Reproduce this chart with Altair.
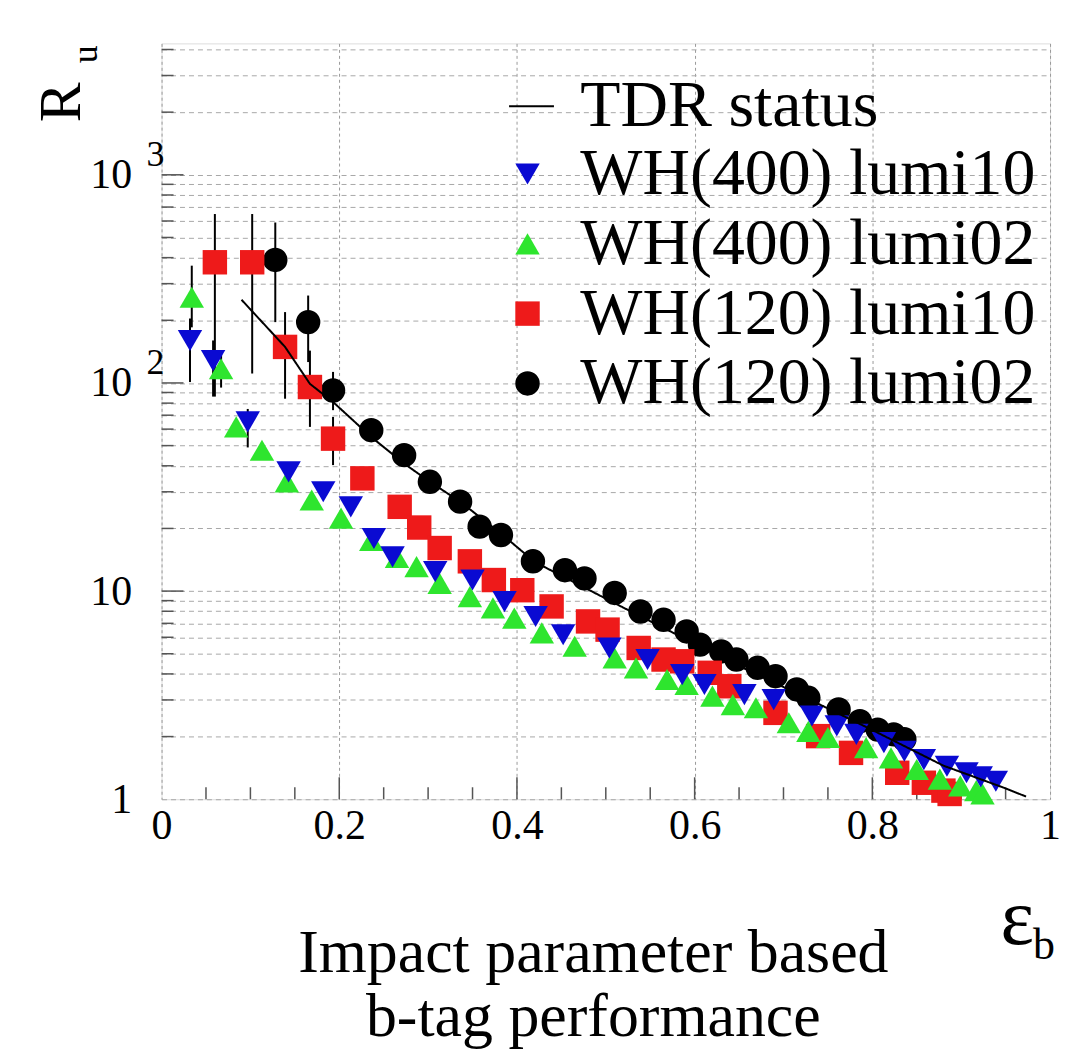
import altair as alt
import pandas as pd

FONT = "Liberation Serif"

series_names = ["WH(400) lumi10", "WH(400) lumi02", "WH(120) lumi10", "WH(120) lumi02"]
series_colors = ["#0a0ad2", "#2ee52e", "#ee1a1a", "#000000"]
series_shapes = ["triangle-down", "triangle-up", "square", "circle"]
series_sizes = [600, 600, 540, 420]

# WH(400) lumi10
blue_x = [0.032, 0.058, 0.097, 0.143, 0.182, 0.213, 0.239, 0.260, 0.308, 0.350, 0.386, 0.421,
          0.452, 0.504, 0.547, 0.586, 0.611, 0.656, 0.689, 0.732, 0.760, 0.782, 0.813, 0.836,
          0.858, 0.884, 0.906, 0.922, 0.939]
blue_y = [160, 128, 65, 37.4, 30, 25.4, 17.9, 14.6, 12.4, 11.3, 8.9, 7.55,
          6.17, 5.33, 4.69, 3.97, 3.56, 3.18, 3.01, 2.51, 2.25, 2.05, 1.87, 1.70,
          1.55, 1.44, 1.34, 1.28, 1.22]
# WH(400) lumi02
green_x = [0.034, 0.067, 0.084, 0.113, 0.141, 0.169, 0.202, 0.236, 0.265, 0.287, 0.313, 0.347,
           0.373, 0.397, 0.428, 0.465, 0.510, 0.534, 0.569, 0.591, 0.620, 0.643, 0.669, 0.706,
           0.728, 0.750, 0.793, 0.821, 0.850, 0.876, 0.899, 0.917, 0.924]
green_y = [258, 117, 61.5, 47.5, 33.5, 27.4, 22.4, 17.5, 14.5, 13.1, 10.9, 9.4,
           8.3, 7.42, 6.3, 5.43, 4.77, 4.28, 3.76, 3.56, 3.13, 2.85, 2.75, 2.33,
           2.12, 1.98, 1.77, 1.58, 1.39, 1.25, 1.16, 1.10, 1.06]
# WH(120) lumi10
red_x = [0.060, 0.102, 0.139, 0.167, 0.193, 0.226, 0.268, 0.290, 0.313, 0.347, 0.374, 0.406,
         0.439, 0.480, 0.502, 0.537, 0.565, 0.586, 0.617, 0.639, 0.691, 0.739, 0.776, 0.828,
         0.858, 0.880, 0.887]
red_y = [380, 380, 149, 95.6, 54, 34.8, 25.4, 20.2, 16.1, 13.9, 11.3, 10.1,
         8.44, 7.15, 6.53, 5.33, 4.69, 4.6, 4.05, 3.49, 2.60, 2.01, 1.67, 1.34,
         1.20, 1.10, 1.06]
# WH(120) lumi02
black_x = [0.128, 0.165, 0.193, 0.236, 0.273, 0.302, 0.336, 0.358, 0.382, 0.418, 0.454, 0.476,
           0.510, 0.539, 0.565, 0.591, 0.606, 0.630, 0.647, 0.671, 0.691, 0.715, 0.728, 0.762,
           0.786, 0.806, 0.824, 0.836]
black_y = [390, 196, 92, 59.3, 45, 33.5, 26.9, 20.4, 18.6, 13.9, 12.6, 11.5,
           9.8, 7.98, 7.28, 6.4, 5.53, 5.13, 4.69, 4.28, 3.90, 3.37, 3.07, 2.70,
           2.37, 2.16, 2.05, 1.94]

# TDR status curve
tdr_x = [0.090, 0.139, 0.167, 0.193, 0.236, 0.273, 0.302, 0.336, 0.384, 0.420, 0.519, 0.647,
         0.720, 0.800, 0.880, 0.947, 0.973]
tdr_y = [251, 149, 99, 81, 55, 41, 33.5, 26.9, 18.6, 13.8, 8.36, 4.43,
         3.15, 2.15, 1.45, 1.14, 1.03]

# vertical error bars
err_x = [0.060, 0.102, 0.139, 0.167, 0.193, 0.128, 0.165, 0.193, 0.034, 0.067, 0.032, 0.058, 0.097]
err_lo = [86, 111, 84, 61.5, 40.3, 196, 126, 74, 185, 95, 101, 86, 49]
err_hi = [648, 648, 219, 143, 68.7, 590, 263, 113, 366, 140, 204, 160, 75]

x_ticks = [0, 0.2, 0.4, 0.6, 0.8, 1.0]
x_minor = [0.05, 0.1, 0.15, 0.25, 0.3, 0.35, 0.45, 0.5, 0.55, 0.65, 0.7, 0.75, 0.85, 0.9, 0.95]
y_decades = [1, 10, 100, 1000]
y_minor = [m * d for d in [1, 10, 100, 1000] for m in range(2, 10) if m * d <= 4000]
y_sup_vals = [100, 1000]
y_sup_text = ["2", "3"]

W, H = 891, 758

# ---------- tables ----------
rows = []
order = [3, 2, 1, 0]  # draw black, red, green, blue (blue on top)
for i in order:
    xs, ys = [(blue_x, blue_y), (green_x, green_y), (red_x, red_y), (black_x, black_y)][i]
    for a, b in zip(xs, ys):
        rows.append({"eff": a, "rej": b, "series": series_names[i]})
pts = pd.DataFrame(rows)
tdr = pd.DataFrame({"eff": tdr_x, "rej": tdr_y, "label": "TDR status"})
err = pd.DataFrame({"eff": err_x, "lo": err_lo, "hi": err_hi})

xscale = alt.Scale(domain=[0, 1], nice=False, zero=False)
yscale = alt.Scale(type="log", domain=[1, 4280], nice=False)

x_axis = alt.Axis(values=x_ticks, grid=True, gridDash=[3, 3], gridColor="#9a9a9a", gridWidth=1,
                  ticks=False, domain=False, labelFont=FONT, labelFontSize=42, labelColor="black",
                  labelPadding=6, labelFlush=False, title=None,
                  labelExpr="datum.value == 0 ? '0' : datum.value == 1 ? '1' : format(datum.value, '.1f')")
y_axis = alt.Axis(values=y_decades + y_minor, grid=True, gridDash=[5, 4], gridColor="#a8a8a8",
                  gridWidth=1, ticks=False, domain=False, labelFont=FONT, labelFontSize=42,
                  labelColor="black", labelPadding=30, title=None,
                  labelExpr="datum.value == 1 ? '1' : (datum.value == 10 || datum.value == 100 || datum.value == 1000) ? '10' : ''")

legend_pts = alt.Legend(orient="none", legendX=334, legendY=98, title=None, labelFont=FONT,
                        labelFontSize=66, labelColor="black", symbolSize=240, symbolStrokeWidth=0,
                        rowPadding=4, labelOffset=20, labelLimit=0)

err_layer = alt.Chart(err).mark_rule(color="black", strokeWidth=2).encode(
    x=alt.X("eff:Q", scale=xscale, axis=x_axis),
    y=alt.Y("lo:Q", scale=yscale, axis=y_axis),
    y2="hi:Q",
)

pts_layer = alt.Chart(pts).mark_point(filled=True, opacity=1).encode(
    x=alt.X("eff:Q", scale=xscale, axis=x_axis),
    y=alt.Y("rej:Q", scale=yscale, axis=y_axis),
    color=alt.Color("series:N", scale=alt.Scale(domain=series_names, range=series_colors), legend=legend_pts),
    shape=alt.Shape("series:N", scale=alt.Scale(domain=series_names, range=series_shapes), legend=legend_pts),
    size=alt.Size("series:N", scale=alt.Scale(domain=series_names, range=series_sizes), legend=None),
)

line_layer = alt.Chart(tdr).mark_line(color="black", strokeWidth=2).encode(
    x=alt.X("eff:Q", scale=xscale, axis=x_axis),
    y=alt.Y("rej:Q", scale=yscale, axis=y_axis),
    strokeDash=alt.StrokeDash("label:N", scale=alt.Scale(domain=["TDR status"], range=[[1, 0]]),
                              legend=alt.Legend(orient="none", legendX=338, legendY=30, title=None,
                                                labelFont=FONT, labelFontSize=66, labelColor="black",
                                                symbolType="stroke", symbolSize=2025,
                                                symbolStrokeColor="black", symbolStrokeWidth=2,
                                                labelOffset=16, labelLimit=0)),
)

# small inward ticks
xt = pd.DataFrame({"v": x_minor})
xtm = pd.DataFrame({"v": x_ticks[1:-1]})
yt = pd.DataFrame({"v": y_minor})
ytm = pd.DataFrame({"v": y_decades[1:]})
xtick_minor = alt.Chart(xt).mark_rule(color="#555", strokeWidth=1.5).encode(
    x=alt.X("v:Q", scale=xscale, axis=x_axis), y=alt.value(H), y2=alt.value(H - 12))
xtick_major = alt.Chart(xtm).mark_rule(color="#555", strokeWidth=1.5).encode(
    x=alt.X("v:Q", scale=xscale, axis=x_axis), y=alt.value(H), y2=alt.value(H - 22))
ytick_minor = alt.Chart(yt).mark_rule(color="#555", strokeWidth=1.5).encode(
    y=alt.Y("v:Q", scale=yscale, axis=y_axis), x=alt.value(0), x2=alt.value(12))
ytick_major = alt.Chart(ytm).mark_rule(color="#555", strokeWidth=1.5).encode(
    y=alt.Y("v:Q", scale=yscale, axis=y_axis), x=alt.value(0), x2=alt.value(22))

sup = pd.DataFrame({"v": y_sup_vals, "s": y_sup_text})
sup_layer = alt.Chart(sup).mark_text(font=FONT, fontSize=36, align="left", baseline="middle",
                                     dy=-20, color="black").encode(
    y=alt.Y("v:Q", scale=yscale, axis=y_axis), x=alt.value(-15), text="s:N")

one = pd.DataFrame({"k": [0]})


def txt(s, x, y, size, angle=0, align="center", baseline="alphabetic"):
    kw = dict(text=s, font=FONT, fontSize=size, align=align, baseline=baseline, color="black")
    if angle:
        kw["angle"] = angle
    return alt.Chart(one).mark_text(**kw).encode(x=alt.value(x), y=alt.value(y))


annotations = [
    txt("Impact parameter based", 433, 931, 62),
    txt("b-tag performance", 433, 995, 62),
    txt("ε", 858, 903, 80),
    txt("b", 885, 918, 44),
    txt("R", -82, 59, 60, angle=270),
    txt("u", -65, 11, 36, angle=270),
]

chart = alt.layer(
    xtick_minor, xtick_major, ytick_minor, ytick_major,
    err_layer, pts_layer, line_layer, sup_layer, *annotations
).properties(
    width=W, height=H,
    autosize=alt.AutoSizeParams(type="none"),
    padding={"left": 154, "top": 34, "right": 12, "bottom": 250},
).configure_view(stroke="black", strokeWidth=2).configure(background="white")

chart.save("out.html", embed_options={"renderer": "svg", "actions": False})
